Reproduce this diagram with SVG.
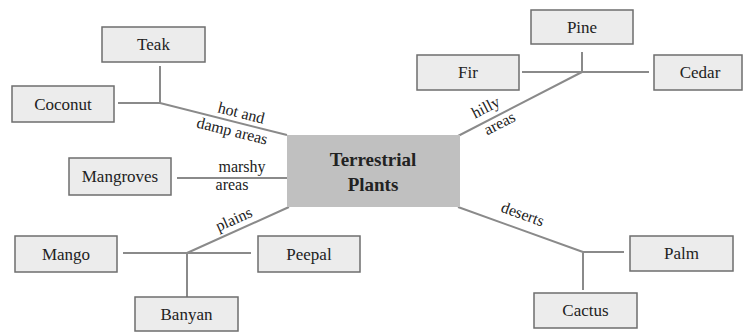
<svg xmlns="http://www.w3.org/2000/svg" width="743" height="333" viewBox="0 0 743 333">
<style>
.box{fill:#ececec;stroke:#6e6e6e;stroke-width:1.5}
.center{fill:#c0c0c0;stroke:none}
text{font-family:'Liberation Serif','Times New Roman',Tinos,'DejaVu Serif',serif;fill:#222;text-anchor:middle}
.t{font-size:17px}
.ctr{font-size:19px;font-weight:bold}
.lbl{font-size:16px}
.ln{stroke:#8a8a8a;stroke-width:2;fill:none}
</style>
<rect width="743" height="333" fill="#fff"/>
<g id="connectors">
<path class="ln" d="M160,66V103M118,103H160L287,135"/>
<path class="ln" d="M177,178H287"/>
<path class="ln" d="M582,52V72M522,72H649M582,72L458,136"/>
<path class="ln" d="M123,253H251M187,253V297M187,253L289,207"/>
<path class="ln" d="M458,207L583,252M583,252H624M583,252V290"/>
</g>
<g id="labels">
<text class="lbl" transform="translate(240,118) rotate(14)">hot and</text>
<text class="lbl" transform="translate(231,136) rotate(14)">damp areas</text>
<text class="lbl" x="242" y="172">marshy</text>
<text class="lbl" x="232" y="190">areas</text>
<text class="lbl" transform="translate(488,112) rotate(-27)">hilly</text>
<text class="lbl" transform="translate(502,128) rotate(-27)">areas</text>
<text class="lbl" transform="translate(236,224) rotate(-24)">plains</text>
<text class="lbl" transform="translate(521,219) rotate(20)">deserts</text>
</g>
<g id="center"><rect class="center" x="287" y="135" width="173" height="72"/><text class="ctr" x="373" y="166">Terrestrial</text><text class="ctr" x="373" y="191">Plants</text></g>
<g id="teak"><rect class="box" x="102" y="27" width="103" height="35"/><text class="t" x="153.5" y="50">Teak</text></g>
<g id="coconut"><rect class="box" x="12" y="86" width="102" height="36"/><text class="t" x="63" y="110">Coconut</text></g>
<g id="mangroves"><rect class="box" x="69" y="158" width="102" height="37"/><text class="t" x="120" y="182">Mangroves</text></g>
<g id="pine"><rect class="box" x="531" y="10" width="102" height="34"/><text class="t" x="582" y="33">Pine</text></g>
<g id="fir"><rect class="box" x="417" y="55" width="102" height="35"/><text class="t" x="468" y="78">Fir</text></g>
<g id="cedar"><rect class="box" x="654" y="55" width="88" height="35"/><text class="t" x="700" y="78">Cedar</text></g>
<g id="mango"><rect class="box" x="15" y="236" width="102" height="36"/><text class="t" x="66" y="260">Mango</text></g>
<g id="peepal"><rect class="box" x="258" y="236" width="102" height="36"/><text class="t" x="309" y="260">Peepal</text></g>
<g id="banyan"><rect class="box" x="135" y="297" width="103" height="34"/><text class="t" x="186.5" y="320">Banyan</text></g>
<g id="palm"><rect class="box" x="630" y="236" width="103" height="35"/><text class="t" x="681.5" y="259">Palm</text></g>
<g id="cactus"><rect class="box" x="534" y="293" width="103" height="35"/><text class="t" x="585.5" y="316">Cactus</text></g>
</svg>
